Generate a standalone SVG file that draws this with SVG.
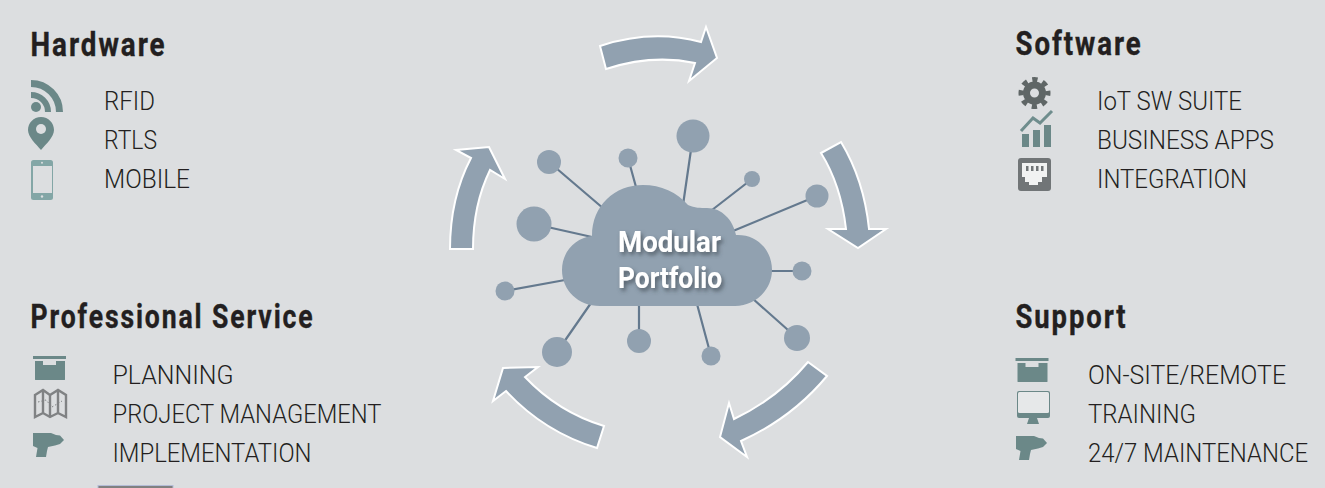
<svg xmlns="http://www.w3.org/2000/svg" width="1325" height="488" viewBox="0 0 1325 488">
<style>
.h{font-family:Roboto,"Liberation Sans",sans-serif;font-weight:700;font-size:34px;letter-spacing:2.400px;fill:#231f20;stroke:#231f20;stroke-width:.4px}
.t{font-family:Roboto,"Liberation Sans",sans-serif;font-weight:300;font-size:25px;fill:#231f20}
.c{font-family:Roboto,"Liberation Sans",sans-serif;font-weight:700;font-size:30px;fill:#fff;filter:url(#sh)}
.arrow{fill:#91a1b0;stroke:#fff;stroke-width:2;stroke-linejoin:miter}
.node{fill:#91a1b0}
.link{stroke:#64798e;stroke-width:2.2;fill:none}
.teal{fill:#6b8888}
</style>
<defs>
<filter id="sh" x="-20%" y="-20%" width="140%" height="150%"><feDropShadow dx="2" dy="3" stdDeviation="2" flood-color="#3c4650" flood-opacity=".75"/></filter>
<g id="box"><rect class="teal" x="0" y="0" width="33" height="3"/><path class="teal" d="M2 5H10V9H23V5H32V23.5Q32 24 31 24H3Q2 24 2 23.5Z"/></g>
<path id="drill" class="teal" d="M33 433H51L56 435L60 435.500L64 440L60 444L55 445.500L48 447L47 451L46 457H36L37.500 448L33 446Z"/>
</defs>
<rect width="1325" height="488" fill="#dcdee0"/>
<g id="connectors">
<path class="link" d="M693 136L683 205M628 158L636 187M549 162L604 209M752 179L712 210M817 196L733 231M534 224L592 237M505 291L565 280M802 271L770 271M557 352L591 303M639 341V304M711 356L697 304M797 338L752 298"/>
</g>
<g id="cloud">
<path class="node" d="M600 306C578 306 562 290 562 270C562 252 575 238 592 236C592 205 615 185 643 185C661 185 677 192 688 205C695 208 700 208 707 208C722 208 733 220 736 235C757 234 772 250 772 270C772 290 755 306 735 306Z"/>
<text class="c" x="618" y="252" textLength="103" lengthAdjust="spacingAndGlyphs">Modular</text>
<text class="c" x="618" y="288" textLength="104" lengthAdjust="spacingAndGlyphs">Portfolio</text>
</g>
<g id="satellites">
<circle class="node" cx="693" cy="136" r="16.5"/><circle class="node" cx="628" cy="158" r="9.5"/><circle class="node" cx="549" cy="162" r="12"/><circle class="node" cx="752" cy="179" r="8"/><circle class="node" cx="817" cy="196" r="11.5"/><circle class="node" cx="534" cy="224" r="17.5"/><circle class="node" cx="505" cy="291" r="9.5"/><circle class="node" cx="802" cy="271" r="9.5"/><circle class="node" cx="557" cy="352" r="15"/><circle class="node" cx="639" cy="341" r="12"/><circle class="node" cx="711" cy="356" r="9.5"/><circle class="node" cx="797" cy="338" r="13"/>
</g>
<g id="cycle-arrows">
<path class="arrow" d="M600 46Q652 29 701 42L706 27L717 58L689 81L695 63Q652 54 606 69Z"/>
<path class="arrow" d="M821 153L841 142Q864 180 869 229H886L858 248L828 229H846Q841 185 821 153Z"/>
<path class="arrow" d="M808 362L827 376Q792 418 741 441L747 457L720 437L729 403L734 419Q778 398 808 362Z"/>
<path class="arrow" d="M604 426L597 448Q544 432 506 391L493 401L503 368L538 367L525 377Q558 412 604 426Z"/>
<path class="arrow" d="M450 249Q450 198 471 158L456 150L489 147L505 179L490 170Q473 205 473 249Z"/>
</g>
<g id="hardware">
<text class="h" x="30.500" y="56" textLength="136" lengthAdjust="spacingAndGlyphs">Hardware</text>
<g id="icon-rfid" fill="none" stroke="#6b8888"><path stroke-width="7" d="M31 83.500A28.500 28.500 0 0 1 59.500 112"/><path stroke-width="6" d="M31 95A17 17 0 0 1 48 112"/><circle cx="36" cy="107" r="5" fill="#6b8888" stroke="none"/></g>
<g id="icon-pin"><path class="teal" d="M41 117C48.500 117 54 123 54 130C54 137 46 144 41 150C36 144 28 137 28 130C28 123 33.500 117 41 117Z"/><circle cx="41" cy="129" r="5" fill="#dcdee0"/></g>
<g id="icon-phone"><rect x="31" y="160" width="22" height="40" rx="2.500" fill="#83a6a6"/><rect x="33" y="166" width="19" height="27" fill="#dcdee0"/><circle cx="42" cy="196.500" r="1.200" fill="#dcdee0"/><circle cx="42" cy="162.800" r="1" fill="#dcdee0"/></g>
<text class="t" x="104" y="110" textLength="51" lengthAdjust="spacingAndGlyphs">RFID</text>
<text class="t" x="104" y="149" textLength="53" lengthAdjust="spacingAndGlyphs">RTLS</text>
<text class="t" x="104" y="188" textLength="86" lengthAdjust="spacingAndGlyphs">MOBILE</text>
</g>
<g id="software">
<text class="h" x="1015.500" y="55" textLength="127" lengthAdjust="spacingAndGlyphs">Software</text>
<g id="icon-gear" fill="none" stroke="#5f6666"><circle cx="1034.500" cy="93" r="8" stroke-width="7"/><circle cx="1034.500" cy="93" r="13.500" stroke-width="5" stroke-dasharray="5.300 5.300" stroke-dashoffset="2.650"/></g>
<g id="icon-chart"><path class="teal" d="M1022 134h7v13h-7zM1033 130h7v17h-7zM1044 125h7v22h-7z"/><path fill="none" stroke="#6f8d8d" stroke-width="3" d="M1021 131L1033 118L1040 123L1052 111"/></g>
<g id="icon-port"><rect x="1018" y="158" width="33" height="33" rx="3" fill="#717577"/><path fill="#f1f2f2" d="M1022 163H1047V177H1042V182H1038V185H1029V182H1025V177H1022Z"/><path fill="#717577" d="M1026 166h2.500v5h-2.500zM1031 166h2.500v5h-2.500zM1036 166h2.500v5h-2.500zM1041 166h2.500v5h-2.500z"/></g>
<text class="t" x="1097" y="110" textLength="145" lengthAdjust="spacingAndGlyphs">IoT SW SUITE</text>
<text class="t" x="1097" y="149" textLength="177" lengthAdjust="spacingAndGlyphs">BUSINESS APPS</text>
<text class="t" x="1097" y="188" textLength="150" lengthAdjust="spacingAndGlyphs">INTEGRATION</text>
</g>
<g id="professional-service">
<text class="h" x="30.500" y="328" textLength="284" lengthAdjust="spacingAndGlyphs">Professional Service</text>
<use href="#box" x="33" y="356"/>
<g id="icon-map" fill="none" stroke="#808284"><path stroke-width="2.400" d="M35 395L43 390L50 395L58 390L66 395V417L58 413L50 417L43 413L35 417ZM43 390V413M50 395V417M58 390V413"/><path stroke-width="1" stroke-dasharray="1.500 2" d="M38 402L46 400L52 407L62 401"/></g>
<use href="#drill"/>
<text class="t" x="112.500" y="384" textLength="121" lengthAdjust="spacingAndGlyphs">PLANNING</text>
<text class="t" x="112.500" y="423" textLength="269" lengthAdjust="spacingAndGlyphs">PROJECT MANAGEMENT</text>
<text class="t" x="112.500" y="462" textLength="199" lengthAdjust="spacingAndGlyphs">IMPLEMENTATION</text>
</g>
<g id="support">
<text class="h" x="1015.500" y="328" textLength="112" lengthAdjust="spacingAndGlyphs">Support</text>
<use href="#box" x="1015.500" y="358"/>
<g id="icon-monitor"><rect x="1017" y="391" width="33" height="27" rx="2" class="teal"/><rect x="1018" y="392" width="31" height="21" rx="1.500" fill="#e6e8e9"/><path class="teal" d="M1029 418H1037L1039 424H1027Z"/></g>
<use href="#drill" x="983" y="3"/>
<text class="t" x="1088" y="384" textLength="198" lengthAdjust="spacingAndGlyphs">ON-SITE/REMOTE</text>
<text class="t" x="1088" y="423" textLength="108" lengthAdjust="spacingAndGlyphs">TRAINING</text>
<text class="t" x="1088" y="462" textLength="220" lengthAdjust="spacingAndGlyphs">24/7 MAINTENANCE</text>
</g>
<rect id="bottom-edge" x="98" y="485.500" width="75" height="3" fill="#808080" stroke="#b4bcd6" stroke-width="1"/>
</svg>
